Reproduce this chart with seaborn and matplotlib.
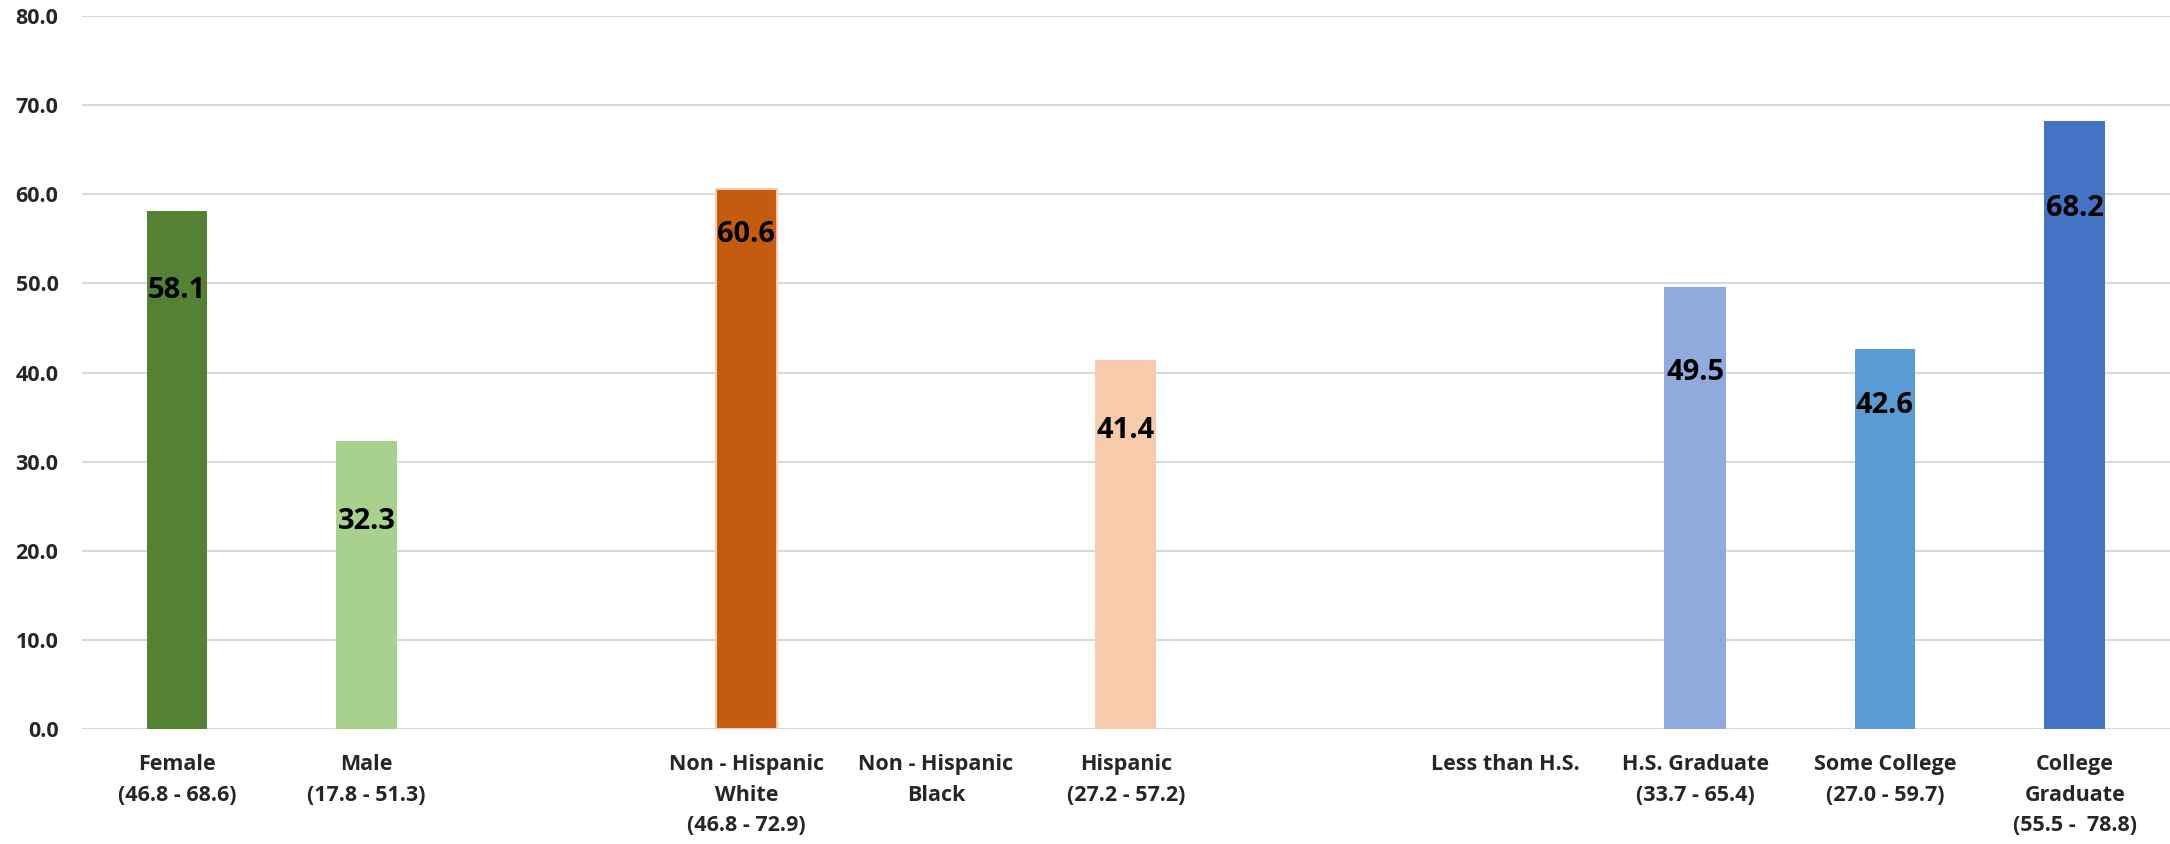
import matplotlib
matplotlib.use("Agg")
import matplotlib.pyplot as plt
import numpy as np
import pandas as pd
import seaborn as sns

# ── Data ──────────────────────────────────────────────────────────────────────
categories = [
    "Female\n(46.8 - 68.6)",
    "Male\n(17.8 - 51.3)",
    "Non - Hispanic\nWhite\n(46.8 - 72.9)",
    "Non - Hispanic\nBlack",
    "Hispanic\n(27.2 - 57.2)",
    "Less than H.S.",
    "H.S. Graduate\n(33.7 - 65.4)",
    "Some College\n(27.0 - 59.7)",
    "College\nGraduate\n(55.5 -  78.8)",
]
values = [58.1, 32.3, 60.6, None, 41.4, None, 49.5, 42.6, 68.2]
colors = ["#548235", "#A9D18E", "#C55A11", "#C55A11", "#F8CBAD",
          "#8FAADC", "#8FAADC", "#5B9BD5", "#4472C4"]
y_ticks = [0, 10, 20, 30, 40, 50, 60, 70, 80]

# where each value label sits below the bar top (data units, hand placed)
label_drop = [8.9, 9.0, 5.1, 0, 7.9, 0, 9.5, 6.3, 9.8]

# empty spacer slots between the groups
order = categories[:2] + [" "] + categories[2:5] + ["  "] + categories[5:]

df = pd.DataFrame({"category": categories, "value": values})
df = df.dropna()
palette = dict(zip(categories, colors))

# ── Plot ──────────────────────────────────────────────────────────────────────
sns.set_style("white")
plt.rcParams["font.family"] = ["Open Sans", "DejaVu Sans"]

fig = plt.figure(figsize=(21.7, 8.44), dpi=100)
ax = fig.add_axes([0.0378, 0.136, 0.962, 0.845])

sns.barplot(data=df, x="category", y="value", hue="category", order=order,
            hue_order=categories, palette=palette, width=0.32, legend=False,
            saturation=1, ax=ax, zorder=3)

# light outline on a couple of bars as in the original
for bar in ax.patches:
    bar.set_linewidth(0)
for container, cat in zip(ax.containers, df["category"]):
    if cat.startswith("Non - Hispanic\nWhite") or cat.startswith("College"):
        for bar in container:
            bar.set_edgecolor("#F8CBAD" if cat.startswith("Non") else "#8FAADC")
            bar.set_linewidth(1.5)

for cat, val, drop in zip(categories, values, label_drop):
    if val is None:
        continue
    ax.text(order.index(cat), val - drop, f"{val:.1f}", ha="center", va="center",
            fontsize=21, fontweight="bold", color="black", zorder=4)

ax.set_ylim(0, 80)
ax.set_yticks(y_ticks)
ax.set_yticklabels([f"{t:.1f}" for t in y_ticks])
ax.set_xlim(-0.5, len(order) - 0.5)
ax.set_xlabel("")
ax.set_ylabel("")

ax.yaxis.grid(True, color="#D9D9D9", linewidth=1.5, zorder=0)
ax.xaxis.grid(False)
for s in ax.spines.values():
    s.set_visible(False)

ax.tick_params(axis="y", length=0, pad=17, labelsize=15.5)
ax.tick_params(axis="x", length=0, pad=18, labelsize=15.5)
for lbl in ax.get_yticklabels():
    lbl.set_fontweight("bold")
for lbl in ax.get_xticklabels():
    lbl.set_fontweight("bold")
    lbl.set_linespacing(1.6)

fig.savefig("out.png", dpi=100, facecolor="white")
plt.close(fig)
